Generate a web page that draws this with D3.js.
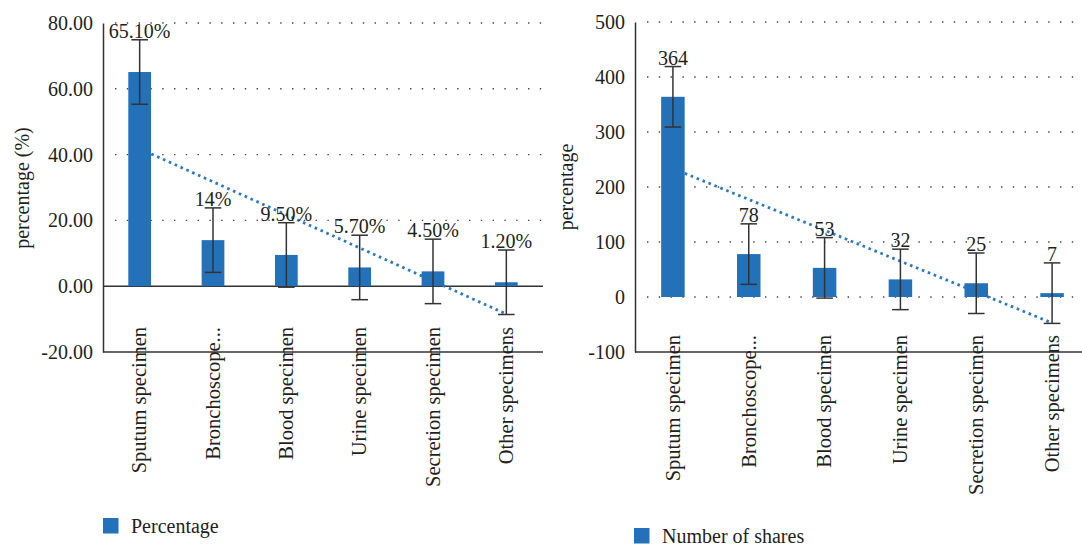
<!DOCTYPE html>
<html>
<head>
<meta charset="utf-8">
<script src="https://cdn.jsdelivr.net/npm/d3@7/dist/d3.min.js"></script>
<style>
  html, body { margin: 0; padding: 0; background: #fff; }
  svg { display: block; }
  svg text { font-family: "Liberation Serif", "DejaVu Serif", serif !important; fill: #231f20; }
</style>
</head>
<body>
<svg id="chart" width="1082" height="546"></svg>
<script>
// ---- data ----
const categories = ["Sputum specimen", "Bronchoscope...", "Blood specimen", "Urine specimen", "Secretion specimen", "Other specimens"];
const percentValues = [65.1, 14, 9.5, 5.7, 4.5, 1.2];
const percentLabels = ["65.10%", "14%", "9.50%", "5.70%", "4.50%", "1.20%"];
const percentErrors = [9.8, 9.8, 9.8, 9.8, 9.8, 9.8];
const percentTicks = [-20, 0, 20, 40, 60, 80];
const shareValues = [364, 78, 53, 32, 25, 7];
const shareLabels = ["364", "78", "53", "32", "25", "7"];
const shareErrors = [55, 55, 55, 55, 55, 55];
const shareTicks = [-100, 0, 100, 200, 300, 400, 500];

const BAR = "#2371b9";
const TREND = "#2b78c4";
const INK = "#333333";

const svg = d3.select("#chart");

function drawPanel(cfg) {
  const g = svg.append("g");
  const x = d3.scaleBand().domain(categories).range([cfg.x0, cfg.x1]).paddingInner(0.69).paddingOuter(0.345);
  const y = d3.scaleLinear().domain([cfg.ticks[0], cfg.ticks[cfg.ticks.length - 1]]).range([cfg.yBottom, cfg.yTop]);

  // gridlines
  cfg.ticks.forEach(t => {
    if (t === cfg.ticks[0]) return;
    const solid = cfg.solidZero && t === 0;
    g.append("line")
      .attr("x1", solid ? cfg.x0 : cfg.x0 + 12).attr("x2", cfg.gridEnd)
      .attr("y1", y(t)).attr("y2", y(t))
      .attr("stroke", solid ? INK : "#444")
      .attr("stroke-width", solid ? 1.5 : 1.4)
      .attr("stroke-dasharray", solid ? null : "1.4,10.4");
  });

  // y axis with tick labels
  const yAxis = d3.axisLeft(y).tickValues(cfg.ticks).tickSize(0).tickPadding(10)
    .tickFormat(d => cfg.fmt(d).replace("\u2212", "-"));
  const ya = g.append("g").attr("transform", `translate(${cfg.x0},0)`).call(yAxis);
  ya.attr("font-family", null).attr("font-size", null);
  ya.select(".domain").attr("stroke", INK).attr("stroke-width", 1.5);
  ya.selectAll("text").style("font-size", "20px").attr("fill", "#231f20");

  // bottom axis line
  g.append("line").attr("x1", cfg.x0).attr("x2", cfg.gridEnd)
    .attr("y1", y(cfg.ticks[0])).attr("y2", y(cfg.ticks[0]))
    .attr("stroke", INK).attr("stroke-width", 1.5);

  // trendline (least squares over category index), drawn beneath bars
  const n = cfg.values.length;
  const xs = d3.range(1, n + 1);
  const mx = d3.mean(xs), my = d3.mean(cfg.values);
  const slope = d3.sum(xs, (xi, i) => (xi - mx) * (cfg.values[i] - my)) / d3.sum(xs, xi => (xi - mx) ** 2);
  const icpt = my - slope * mx;
  const cx = i => x(categories[i]) + x.bandwidth() / 2;
  g.append("line")
    .attr("x1", cx(0)).attr("y1", y(icpt + slope * 1))
    .attr("x2", cx(n - 1)).attr("y2", y(icpt + slope * n))
    .attr("stroke", TREND).attr("stroke-width", 2.8)
    .attr("stroke-dasharray", "2.6,3.8");

  // bars
  g.selectAll("rect.bar").data(cfg.values).enter().append("rect")
    .attr("x", (d, i) => x(categories[i]))
    .attr("width", x.bandwidth())
    .attr("y", d => y(Math.max(0, d)))
    .attr("height", d => Math.abs(y(d) - y(0)))
    .attr("fill", BAR);

  // error bars
  cfg.values.forEach((v, i) => {
    const e = cfg.errors[i];
    const c = cx(i);
    const eg = g.append("g").attr("stroke", INK).attr("stroke-width", 1.5);
    eg.append("line").attr("x1", c).attr("x2", c).attr("y1", y(v + e)).attr("y2", y(v - e));
    eg.append("line").attr("x1", c - 8.3).attr("x2", c + 8.3).attr("y1", y(v + e)).attr("y2", y(v + e));
    eg.append("line").attr("x1", c - 8.3).attr("x2", c + 8.3).attr("y1", y(v - e)).attr("y2", y(v - e));
    g.append("text").attr("x", c).attr("y", y(v + e) - 2)
      .attr("text-anchor", "middle").style("font-size", "20px")
      .text(cfg.labels[i]);
  });

  // category labels
  categories.forEach((c, i) => {
    g.append("text")
      .attr("transform", `translate(${cx(i)},${cfg.catTop}) rotate(-90)`)
      .attr("text-anchor", "end").attr("dy", "0.33em")
      .style("font-size", "20.5px")
      .text(c);
  });

  // axis title
  g.append("text")
    .attr("transform", `translate(${cfg.titleX},${cfg.titleY}) rotate(-90)`)
    .attr("text-anchor", "middle").style("font-size", "20px")
    .text(cfg.title);

  // legend
  g.append("rect").attr("x", cfg.legX).attr("y", cfg.legY).attr("width", 15.5).attr("height", 15.5).attr("fill", BAR);
  g.append("text").attr("x", cfg.legX + 28).attr("y", cfg.legY + 14.5).style("font-size", "20px").text(cfg.legend);
}

drawPanel({
  values: percentValues, labels: percentLabels, errors: percentErrors, ticks: percentTicks,
  fmt: d3.format(".2f"), x0: 103, x1: 543, gridEnd: 543, yTop: 23, yBottom: 352,
  solidZero: true, catTop: 327, title: "percentage (%)", titleX: 29, titleY: 188,
  legend: "Percentage", legX: 103, legY: 518
});

drawPanel({
  values: shareValues, labels: shareLabels, errors: shareErrors, ticks: shareTicks,
  fmt: d3.format("d"), x0: 635, x1: 1090, gridEnd: 1082, yTop: 22, yBottom: 352,
  solidZero: false, catTop: 335, title: "percentage", titleX: 573, titleY: 187,
  legend: "Number of shares", legX: 634, legY: 528
});
</script>
</body>
</html>
